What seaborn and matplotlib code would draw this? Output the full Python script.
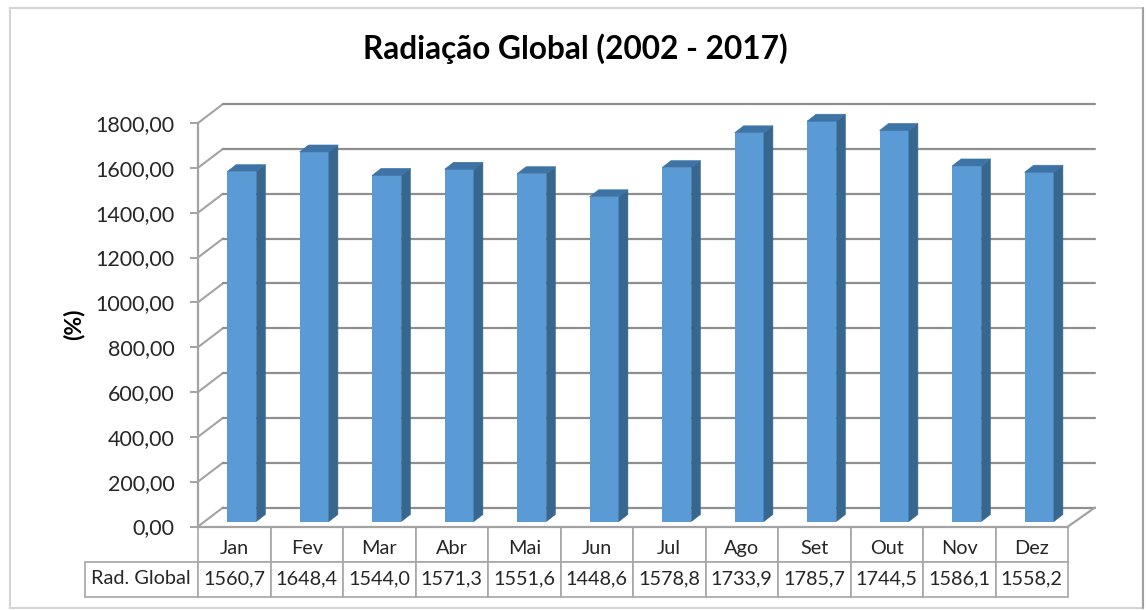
import matplotlib
matplotlib.use('Agg')
import matplotlib.pyplot as plt
from matplotlib.patches import Polygon, Rectangle
import seaborn as sns

months = ['Jan', 'Fev', 'Mar', 'Abr', 'Mai', 'Jun', 'Jul', 'Ago', 'Set', 'Out', 'Nov', 'Dez']
values = [1560.7, 1648.4, 1544.0, 1571.3, 1551.6, 1448.6, 1578.8, 1733.9, 1785.7, 1744.5, 1586.1, 1558.2]
yticks = [0, 200, 400, 600, 800, 1000, 1200, 1400, 1600, 1800]
title = 'Radiação Global (2002 - 2017)'
ylabel = '(%)'
row_name = 'Rad. Global'

W, H = 1148, 610
sns.set_theme(style='white')
plt.rcParams['font.family'] = ['Lato', 'DejaVu Sans']
plt.rcParams['text.color'] = '#262626'

fig = plt.figure(figsize=(W / 100, H / 100), dpi=100, facecolor='white')

# pixel box of the front plane of the fake 3D chart
left, right, top, bottom = 198, 1068, 123, 526.5
col_px = (right - left) / 12
height_px = bottom - top
dx = 1 / col_px              # one pixel in x data units
dy = 1800 / height_px        # one pixel in y data units


def make_axes(shift_x=0, shift_y=0):
    return fig.add_axes([(left + shift_x) / W, (H - bottom + shift_y) / H,
                         (right - left) / W, height_px / H])


# outer frame of the chart
fig.add_artist(Rectangle((9.5 / W, 2.5 / H), 1133 / W, 600 / H, transform=fig.transFigure,
                         fill=False, edgecolor='#d4d4d4', linewidth=1.5))
fig.add_artist(plt.Line2D([1142.5 / W, 1142.5 / W], [2.5 / H, 602.5 / H], color='#a0a0a0', lw=1.5))

# front plane: y axis, walls and gridlines
ax = make_axes()
ax.set_xlim(-0.5, 11.5)
ax.set_ylim(0, 1800)
ax.patch.set_alpha(0)
for s in ['top', 'right']:
    ax.spines[s].set_visible(False)
for s in ['left', 'bottom']:
    ax.spines[s].set_color('#a3a3a3')
    ax.spines[s].set_linewidth(1.6)
ax.set_xticks([])
ax.set_yticks(yticks, [f'{v:.2f}'.replace('.', ',') for v in yticks])
ax.tick_params(axis='y', length=6, width=1.4, color='#a3a3a3', pad=11, labelsize=15.5, left=True,
               labelcolor='#262626')
ax.set_ylabel(ylabel, fontsize=16.5, fontweight='bold', color='black', labelpad=8)

depth_x, depth_y = 25 * dx, 19 * dy
x0, x1 = -0.5, 11.5
for v in yticks:
    ax.plot([x0, x0 + depth_x], [v, v + depth_y], color='#a3a3a3', lw=1.5, clip_on=False, solid_capstyle='round')
    ax.plot([x0 + depth_x, x1 + depth_x + 2 * dx], [v + depth_y, v + depth_y], color='#8f8f8f', lw=1.6, clip_on=False)
ax.plot([x1, x1 + depth_x + 2 * dx], [0, depth_y], color='#a3a3a3', lw=1.6, clip_on=False)

# table below the axis, month names go in by hand because they sit low in their cells
col_widths = [113.5] + [col_px] * 12
total = sum(col_widths)
tbl = ax.table(cellText=[[''] * 13, [row_name] + [f'{v:.1f}'.replace('.', ',') for v in values]],
               colWidths=[c / total for c in col_widths], cellLoc='center',
               bbox=[-113.5 / (right - left), -70 / height_px, total / (right - left), 70 / height_px])
tbl.auto_set_font_size(False)
tbl.set_fontsize(14.3)
for key, cell in tbl.get_celld().items():
    cell.set_edgecolor('#a6a6a6')
    cell.set_linewidth(1.2)
    cell.get_text().set_color('#262626')
tbl[(0, 0)].set_visible(False)
for i, m in enumerate(months):
    ax.text(i, -22 * dy, m, ha='center', va='center', fontsize=14.3, color='#262626')

# bars sit a little inside the floor
ax_bars = make_axes(7.5, 5)
sns.barplot(x=months, y=values, color='#5b9bd5', saturation=1, width=29.3 / col_px, linewidth=0, ax=ax_bars)
ax_bars.set_xlim(-0.5, 11.5)
ax_bars.set_ylim(0, 1800)
ax_bars.axis('off')
ax_bars.patch.set_alpha(0)

side_x, side_y = 9 * dx, 7 * dy
for bar in list(ax_bars.patches):
    bx, bw, bh = bar.get_x(), bar.get_width(), bar.get_height()
    side = [(bx + bw, 0), (bx + bw + side_x, side_y), (bx + bw + side_x, bh + side_y), (bx + bw, bh)]
    roof = [(bx, bh), (bx + side_x, bh + side_y), (bx + bw + side_x, bh + side_y), (bx + bw, bh)]
    ax_bars.add_patch(Polygon(side, closed=True, facecolor='#37668f', edgecolor='#37668f', linewidth=0.4, clip_on=False))
    ax_bars.add_patch(Polygon(roof, closed=True, facecolor='#3e73a6', edgecolor='#3e73a6', linewidth=0.4, clip_on=False))

fig.text(575 / W, (H - 48.5) / H, title, ha='center', va='center', fontsize=22.8, fontweight='bold', color='black')

fig.savefig('out.png', dpi=100)
